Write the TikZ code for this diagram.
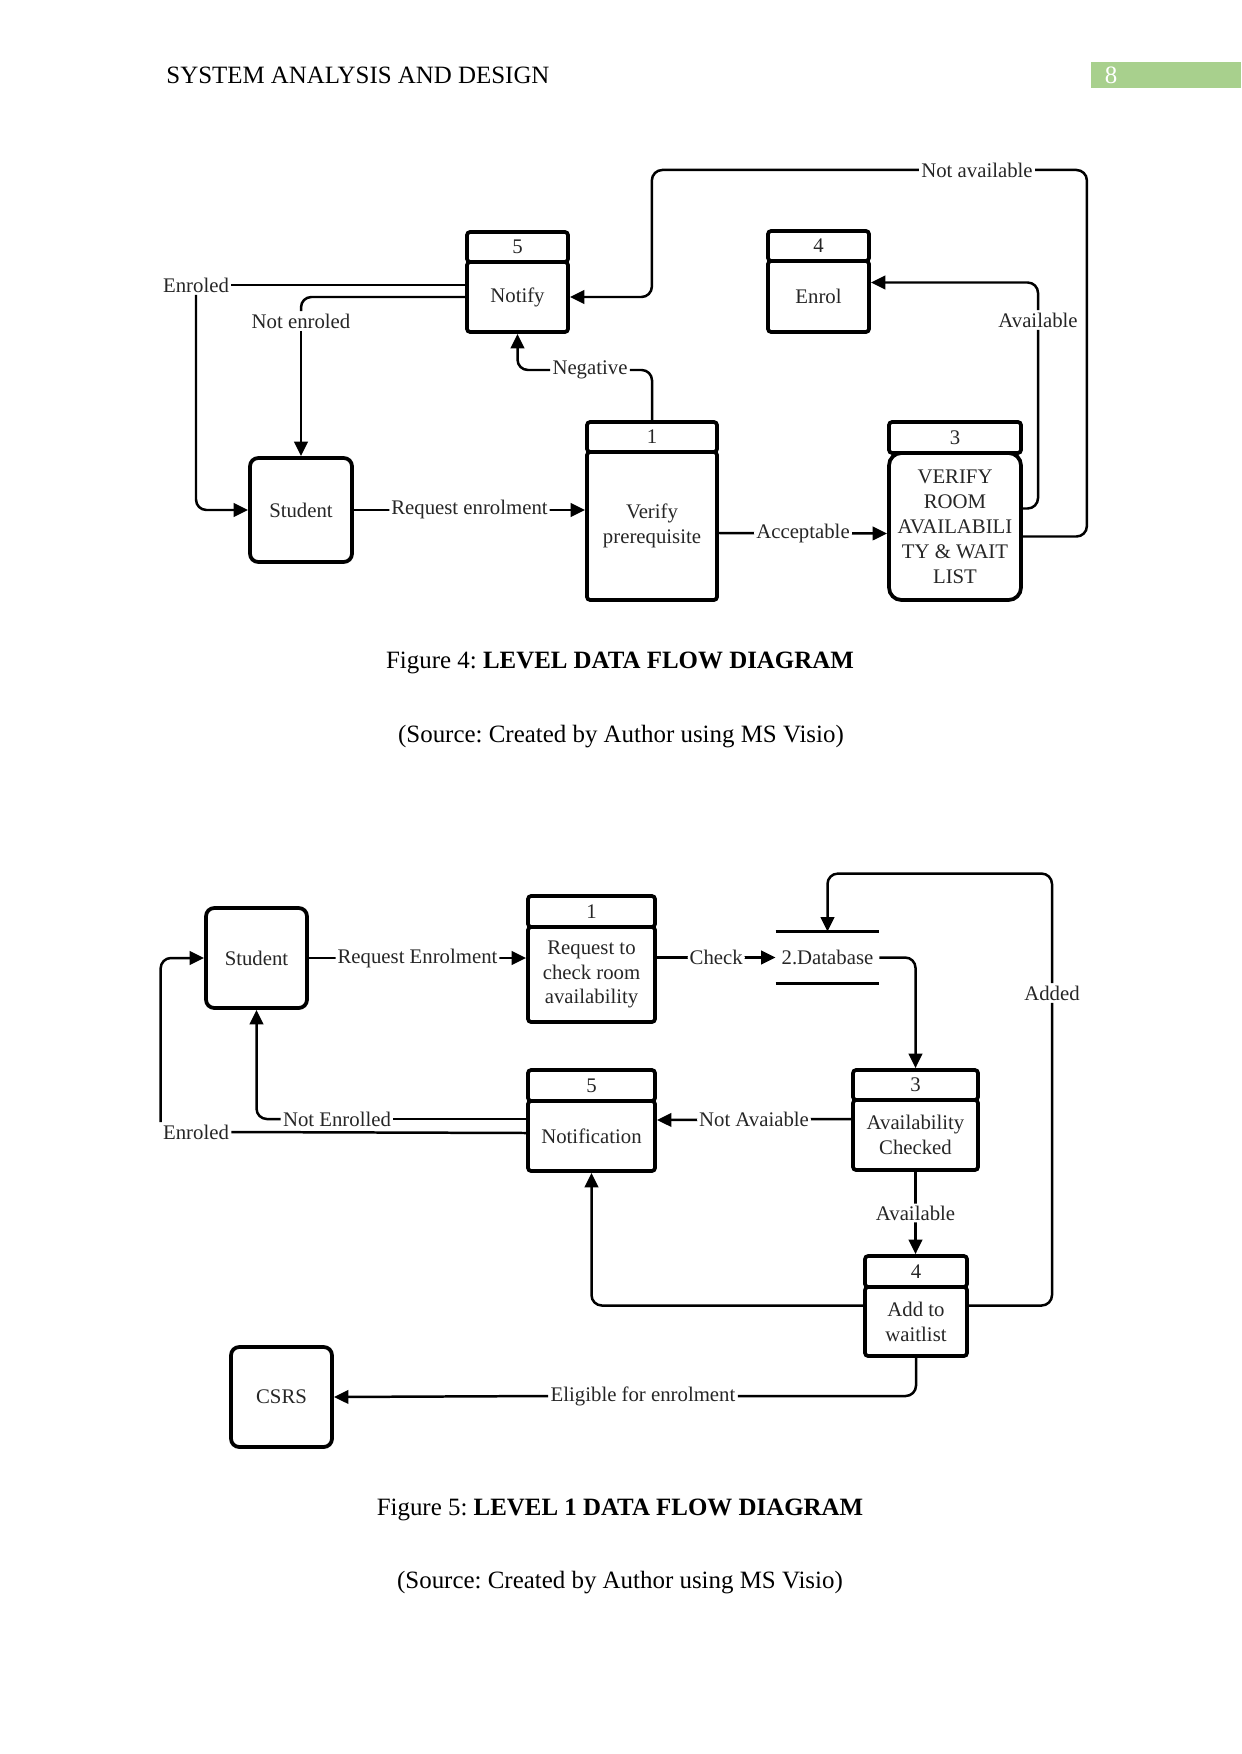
\documentclass[tikz,border=0pt]{standalone}
\usepackage{fontspec}
\setmainfont{Liberation Serif}
\usetikzlibrary{positioning,arrows.meta,calc}
\frenchspacing

\newcommand{\pxl}{0.016922cm}
\newcommand{\dfont}{\fontsize{10}{12}\selectfont}
\definecolor{pagegreen}{HTML}{A8D08D}

\tikzset{
  flow/.style={line width=1.2pt, rounded corners=5pt},
  flowa/.style={flow, -{Triangle[length=7pt,width=6.5pt]}},
  lbl/.style={fill=white, inner sep=1pt, font=\dfont, text=black!85},
  box/.style 2 args={draw, line width=1.8pt, rounded corners=1.5pt, inner sep=0pt,
    align=center, minimum width=#1*\pxl, minimum height=#2*\pxl, font=\dfont, text=black!85},
  ent/.style 2 args={box={#1}{#2}, rounded corners=4pt},
  dbline/.style={line width=1.2pt},
  capt/.style={font=\fontsize{12}{14}\selectfont}
}

\begin{document}
\begin{tikzpicture}[x=\pxl, y=-\pxl]
    \useasboundingbox (0,0) rectangle (1241,1754);

    \node[capt, anchor=west, inner sep=0pt] (hdr) at (166,75) {SYSTEM ANALYSIS AND DESIGN};
    \node[fill=pagegreen, anchor=north west, inner sep=0pt,
          minimum width=150*\pxl, minimum height=26*\pxl] (pgbox) at (1091,62) {};
    \node[capt, text=white] (pgno) at (1111,75) {8};

    % level 0
    \node[box={101}{30}] (n5h) at (517.5,247) {5};
    \node[box={101}{70}] (n5) at (517.5,297) {Notify};
    \node[box={101}{30}] (e4h) at (818.5,246) {4};
    \node[box={101}{71}] (e4) at (818.5,296.5) {Enrol};
    \node[ent={102}{104}] (stA) at (301,510) {Student};
    \node[box={130}{30}] (v1h) at (652,437) {1};
    \node[box={130}{148}] (v1) at (652,526) {Verify\\prerequisite};
    \node[box={132}{31}] (v3h) at (955,437.5) {3};
    \node[box={132}{147}, rounded corners=6pt] (v3) at (955,526.5) {VERIFY\\ROOM\\AVAILABILI\\TY \& WAIT\\LIST};

    \node[lbl] (lEnrA) at (196,285) {Enroled};
    \node[lbl] (lNotA) at (301,321) {Not enroled};
    \node[lbl] (lNeg) at (590,370) {Negative};
    \node[lbl] (lNAv) at (977,170) {Not available};
    \node[lbl] (lAvA) at (1038,320) {Available};

    \draw[flow] (n5.west |- lEnrA.east) -- (lEnrA.east);
    \draw[flowa] (lEnrA.south) |- (stA.west);
    \draw[flow] (n5.west) -| (lNotA.north);
    \draw[flowa] (lNotA.south) -- (stA.north);
    \draw[flow] (v1h.north) |- (lNeg.east);
    \draw[flowa] (lNeg.west) -| (n5.south);
    \draw[flow] ($(v3.east)+(0,10)$) -- ++(64,0) |- (lNAv.east);
    \draw[flowa] (lNAv.west) -| ($(n5.east)+(82,0)$) -- (n5.east);
    \draw[flow] ($(v3.east)+(0,-18)$) -| (lAvA.south);
    \draw[flowa] (lAvA.north) |- ($(e4.east)+(0,-14)$);
    \draw[flowa] (stA.east) -- node[lbl] {Request enrolment} (stA.east -| v1.west);
    \draw[flowa] ($(v1.east)+(0,7)$) -- node[lbl] {Acceptable} ($(v3.west)+(0,7)$);

    \node[capt] (cap4) at (620,663) {Figure 4: \textbf{LEVEL DATA FLOW DIAGRAM}};
    \node[capt] (src4) at (621,737) {(Source: Created by Author using MS Visio)};

    % level 1
    \node[ent={101}{100}] (stB) at (256.5,958) {Student};
    \node[box={127}{31}] (r1h) at (591.5,911.5) {1};
    \node[box={127}{95}] (r1) at (591.5,974.5) {Request to\\check room\\availability};
    \node[inner sep=0pt, minimum width=103*\pxl, minimum height=51*\pxl,
          font=\dfont, text=black!85] (db) at (827.5,957.5) {2.Database};
    \foreach \a/\b in {north west/north east, south west/south east}
        \draw[dbline] (db.\a) -- (db.\b);
    \node[box={125}{30}] (a3h) at (915.5,1085) {3};
    \node[box={125}{70}] (a3) at (915.5,1135) {Availability\\Checked};
    \node[box={127}{31}] (n5bh) at (591.5,1085.5) {5};
    \node[box={127}{70}] (n5b) at (591.5,1136) {Notification};
    \node[box={102}{31}] (w4h) at (916,1271.5) {4};
    \node[box={102}{69}] (w4) at (916,1321.5) {Add to\\waitlist};
    \node[ent={101}{100}] (csrs) at (281.5,1397) {CSRS};

    \node[lbl] (lAdd) at (1052,993) {Added};
    \node[lbl] (lNEn) at (337,1119) {Not Enrolled};
    \node[lbl] (lEnrB) at (196,1132) {Enroled};
    \node[lbl] (lElig) at (643,1396) {Eligible for enrolment};

    \draw[flowa] (stB.east) -- node[lbl] {Request Enrolment} (stB.east -| r1.west);
    \draw[flowa] (r1.east |- db.west) -- node[lbl] {Check} (db.west);
    \draw[flowa] (db.east) -| (a3h.north);
    \draw[flow] ($(w4.east)+(0,-16)$) -| (lAdd.south);
    \draw[flowa] (lAdd.north) |- ($(db.north)+(0,-58)$) -- (db.north);
    \draw[flowa] ($(a3.west)+(0,-16)$) -- node[lbl] {Not Avaiable} ($(n5b.east)+(0,-16)$);
    \draw[flowa] (a3.south) -- node[lbl] {Available} (a3.south |- w4h.north);
    \draw[flowa] ($(w4.west)+(0,-16)$) -| (n5b.south);
    \draw[flow] ($(n5b.west)+(0,-17)$) -- (lNEn.east);
    \draw[flowa] (lNEn.west) -| (stB.south);
    \draw[flow] ($(n5b.west)+(0,-3)$) -- (lEnrB.east);
    \draw[flowa] (lEnrB.north west) |- (stB.west);
    \draw[flow] (w4.south) |- (lElig.east);
    \draw[flowa] (lElig.west) -- (csrs.east);

    \node[capt] (cap5) at (620,1510) {Figure 5: \textbf{LEVEL 1 DATA FLOW DIAGRAM}};
    \node[capt] (src5) at (620,1583) {(Source: Created by Author using MS Visio)};
\end{tikzpicture}
\end{document}
